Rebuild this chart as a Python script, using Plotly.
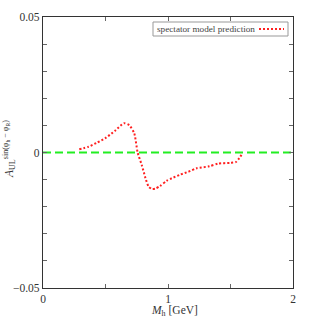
import plotly.graph_objects as go

# Data
mh = [0.29, 0.363, 0.43, 0.496, 0.576, 0.648, 0.69, 0.73, 0.757, 0.79, 0.82, 0.845, 0.87,
      0.9, 0.936, 0.99, 1.03, 1.096, 1.163, 1.23, 1.33, 1.40, 1.50, 1.544, 1.57, 1.59]
asym = [0.0012, 0.0021, 0.0036, 0.0052, 0.0080, 0.0108, 0.0101, 0.0071, 0.0, -0.0046, -0.0095, -0.0126, -0.0134,
        -0.0133, -0.0124, -0.0104, -0.0095, -0.0082, -0.0071, -0.0058, -0.0051, -0.0041, -0.0038, -0.0035, -0.0021, -0.0007]
zero_x = [0, 2]
zero_y = [0, 0]
series_name = "spectator model prediction"

x_tickvals = [0, 0.5, 1, 1.5, 2]
x_ticktext = ["0", "", "1", "", "2"]
y_tickvals = [-0.05, -0.04, -0.03, -0.02, -0.01, 0, 0.01, 0.02, 0.03, 0.04, 0.05]
y_ticktext = ["\u22120.05", "", "", "", "", "0", "", "", "", "", "0.05"]

FONT = "Liberation Serif"
W, H = 311, 327
ML, MR, MT, MB = 43, 18, 17, 39
PW, PH = W - ML - MR, H - MT - MB


def px_x(p):
    return (p - ML) / PW


def px_y(p):
    return 1 - (p - MT) / PH


fig = go.Figure()
fig.add_trace(go.Scatter(x=zero_x, y=zero_y, mode="lines", showlegend=False,
                         line=dict(color="#22ee22", width=2, dash="8px,4px")))
fig.add_trace(go.Scatter(x=mh, y=asym, mode="lines", name=series_name, showlegend=False,
                         line=dict(color="#ff2020", width=2, dash="2px,2px", shape="spline",
                                   smoothing=0.6)))

# legend box (sample on the right, like the reference)
fig.add_shape(type="rect", xref="paper", yref="paper",
              x0=px_x(153), x1=px_x(288), y0=px_y(36), y1=px_y(22),
              line=dict(color="#999", width=1), fillcolor="white", layer="above")
fig.add_shape(type="line", xref="paper", yref="paper",
              x0=px_x(259), x1=px_x(284), y0=px_y(29), y1=px_y(29),
              line=dict(color="#ff2020", width=2, dash="2px,2px"), layer="above")
fig.add_annotation(text=series_name, xref="paper", yref="paper",
                   x=px_x(155), y=px_y(29), xanchor="left", yanchor="middle",
                   showarrow=False, font=dict(family=FONT, size=9.2, color="#444"))

# axis titles
fig.add_annotation(text="<i>M</i><sub>h</sub> [GeV]", xref="paper", yref="paper",
                   x=px_x(174), y=px_y(311), xanchor="center", yanchor="middle",
                   showarrow=False, font=dict(family=FONT, size=11.5, color="#333"))
fig.add_annotation(text="<i>A</i><sub>UL</sub><sup>sin(\u03c6<sub>h</sub> \u2212 \u03c6<sub>R</sub>)</sup>",
                   xref="paper", yref="paper", x=px_x(9), y=px_y(149),
                   xanchor="center", yanchor="middle", textangle=-90,
                   showarrow=False, font=dict(family=FONT, size=11.5, color="#333"))

fig.update_layout(
    width=W, height=H,
    margin=dict(l=ML, r=MR, t=MT, b=MB),
    paper_bgcolor="white", plot_bgcolor="white",
    font=dict(family=FONT, size=11.5, color="#333"),
    showlegend=False,
    xaxis=dict(range=[0, 2], tickvals=x_tickvals, ticktext=x_ticktext, automargin=False,
               showgrid=False, zeroline=False, showline=True, mirror="allticks",
               linecolor="#333", linewidth=1.3, ticks="inside", ticklen=4, tickcolor="#666"),
    yaxis=dict(range=[-0.05, 0.05], tickvals=y_tickvals, ticktext=y_ticktext, automargin=False,
               showgrid=False, zeroline=False, showline=True, mirror="allticks",
               linecolor="#333", linewidth=1.3, ticks="inside", ticklen=4, tickcolor="#666"),
)

fig.write_html("out.html", config={"displayModeBar": False},
               post_script="document.body.style.margin='0';document.body.style.overflow='hidden';")
